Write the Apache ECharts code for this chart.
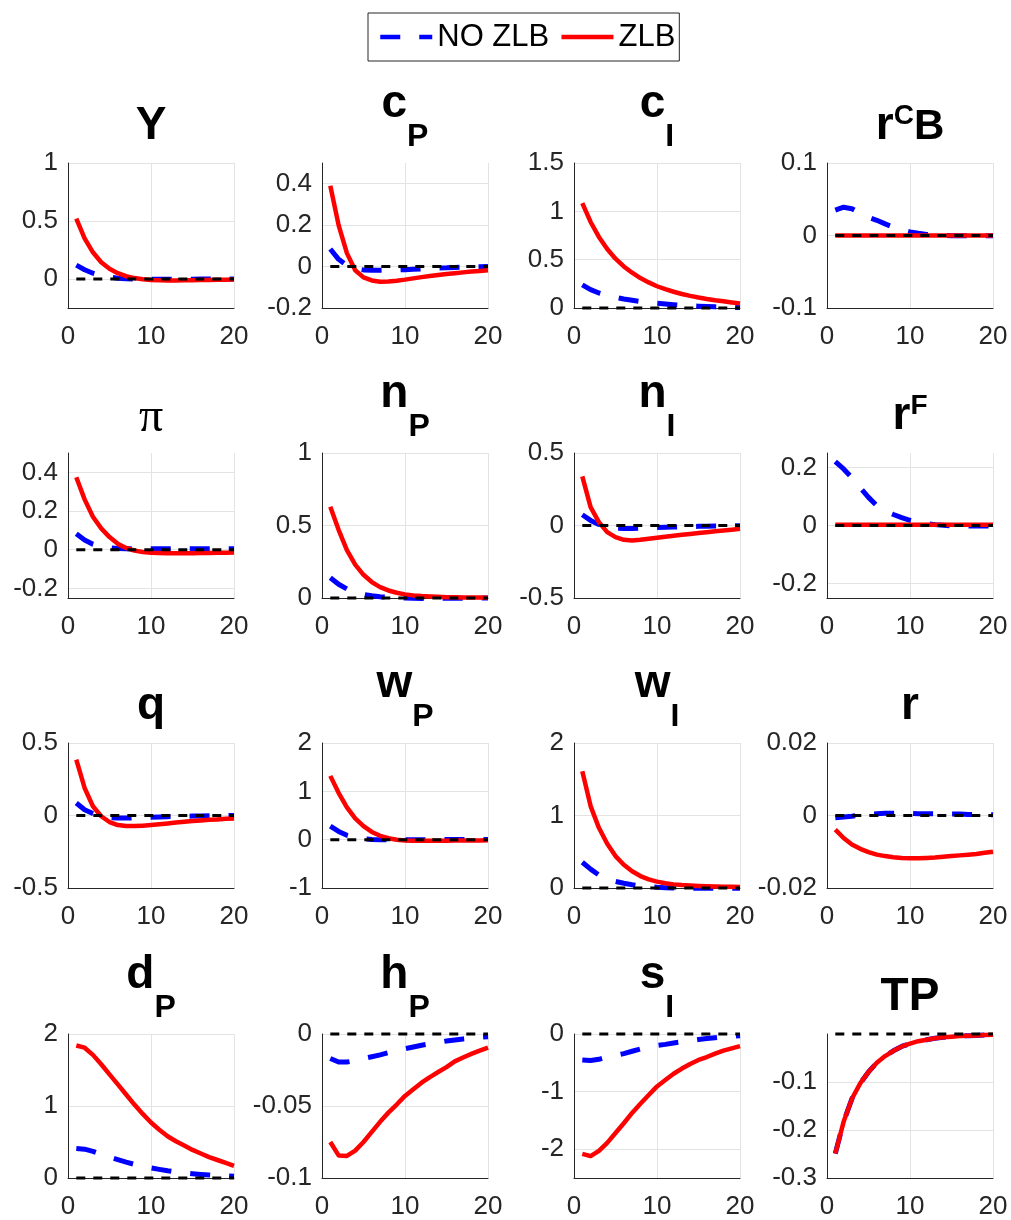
<!DOCTYPE html>
<html>
<head>
<meta charset="utf-8">
<script src="https://cdn.jsdelivr.net/npm/echarts@6/dist/echarts.min.js"></script>
<style>
  html, body { margin: 0; padding: 0; background: #fff; }
  #chart { width: 1011px; height: 1220px; }
</style>
</head>
<body>
<div id="chart"></div>
<script>
// Impulse responses over 20 periods, with and without the zero lower bound.
const periods = [1, 2, 3, 4, 5, 6, 7, 8, 9, 10, 11, 12, 13, 14, 15, 16, 17, 18, 19, 20];
const steadyState = [0, 0, 0, 0, 0, 0, 0, 0, 0, 0, 0, 0, 0, 0, 0, 0, 0, 0, 0, 0];

const noZlbY   = [0.12, 0.08, 0.05, 0.03, 0.016, 0.007, 0.002, -0.001, -0.003, -0.003, -0.003, -0.003, -0.002, -0.002, -0.002, -0.001, -0.001, -0.001, -0.001, 0];
const zlbY     = [0.52, 0.35, 0.23, 0.145, 0.088, 0.05, 0.024, 0.008, -0.002, -0.008, -0.011, -0.012, -0.012, -0.011, -0.010, -0.009, -0.008, -0.007, -0.006, -0.005];

const noZlbCP  = [0.085, 0.035, 0.005, -0.01, -0.016, -0.018, -0.018, -0.017, -0.016, -0.015, -0.013, -0.011, -0.009, -0.007, -0.006, -0.004, -0.003, -0.002, -0.001, 0];
const zlbCP    = [0.39, 0.20, 0.065, -0.018, -0.052, -0.067, -0.073, -0.072, -0.068, -0.063, -0.057, -0.051, -0.046, -0.041, -0.036, -0.032, -0.028, -0.024, -0.021, -0.018];

const noZlbCI  = [0.24, 0.19, 0.155, 0.13, 0.11, 0.093, 0.08, 0.068, 0.058, 0.049, 0.041, 0.034, 0.028, 0.023, 0.019, 0.015, 0.012, 0.009, 0.007, 0.005];
const zlbCI    = [1.085, 0.89, 0.735, 0.61, 0.51, 0.43, 0.365, 0.31, 0.265, 0.225, 0.195, 0.168, 0.145, 0.125, 0.108, 0.093, 0.08, 0.069, 0.058, 0.048];

const noZlbRCB = [0.035, 0.039, 0.037, 0.031, 0.025, 0.021, 0.016, 0.0115, 0.008, 0.005, 0.003, 0.0015, 0.0005, 0, -0.0003, -0.0005, -0.0005, -0.0005, -0.0004, -0.0003];
const zlbRCB   = [0, 0, 0, 0, 0, 0, 0, 0, 0, 0, 0, 0, 0, 0, 0, 0, 0, 0, 0, 0];

const noZlbPi  = [0.082, 0.05, 0.028, 0.015, 0.009, 0.006, 0.005, 0.005, 0.005, 0.005, 0.005, 0.005, 0.005, 0.005, 0.005, 0.005, 0.005, 0.005, 0.005, 0.005];
const zlbPi    = [0.375, 0.26, 0.17, 0.11, 0.065, 0.03, 0.009, -0.005, -0.012, -0.016, -0.017, -0.018, -0.018, -0.018, -0.018, -0.017, -0.017, -0.016, -0.016, -0.015];

const noZlbNP  = [0.14, 0.095, 0.062, 0.04, 0.025, 0.015, 0.009, 0.005, 0.002, 0, -0.002, -0.003, -0.003, -0.002, -0.002, -0.001, -0.001, 0, 0, 0];
const zlbNP    = [0.63, 0.47, 0.33, 0.23, 0.16, 0.11, 0.075, 0.052, 0.036, 0.025, 0.018, 0.013, 0.01, 0.008, 0.006, 0.005, 0.004, 0.003, 0.003, 0.002];

const noZlbNI  = [0.074, 0.035, 0.007, -0.012, -0.018, -0.02, -0.02, -0.018, -0.016, -0.014, -0.012, -0.011, -0.009, -0.007, -0.006, -0.005, -0.004, -0.003, -0.002, -0.001];
const zlbNI    = [0.339, 0.127, 0.023, -0.046, -0.08, -0.099, -0.104, -0.099, -0.092, -0.085, -0.078, -0.071, -0.064, -0.058, -0.052, -0.046, -0.04, -0.035, -0.029, -0.023];

const noZlbRF  = [0.22, 0.195, 0.165, 0.13, 0.097, 0.068, 0.05, 0.038, 0.027, 0.018, 0.012, 0.007, 0.003, 0.001, -0.001, -0.002, -0.002, -0.002, -0.002, -0.002];
const zlbRF    = [0.003, 0.003, 0.003, 0.003, 0.003, 0.003, 0.003, 0.003, 0.003, 0.003, 0.003, 0.003, 0.003, 0.003, 0.003, 0.003, 0.003, 0.003, 0.003, 0.003];

const noZlbQ   = [0.086, 0.04, 0.014, -0.005, -0.014, -0.018, -0.018, -0.016, -0.014, -0.012, -0.01, -0.008, -0.006, -0.005, -0.004, -0.003, -0.002, -0.001, -0.001, 0];
const zlbQ     = [0.386, 0.19, 0.064, -0.005, -0.045, -0.066, -0.073, -0.073, -0.07, -0.066, -0.061, -0.055, -0.049, -0.043, -0.038, -0.034, -0.03, -0.027, -0.023, -0.02];

const noZlbWP  = [0.28, 0.17, 0.09, 0.045, 0.02, 0.005, 0, -0.003, -0.004, -0.004, -0.003, -0.002, -0.001, 0, 0.002, 0.003, 0.003, 0.003, 0.003, 0.003];
const zlbWP    = [1.32, 0.97, 0.67, 0.44, 0.28, 0.16, 0.08, 0.03, 0, -0.015, -0.02, -0.022, -0.022, -0.021, -0.02, -0.018, -0.017, -0.016, -0.015, -0.014];

const noZlbWI  = [0.355, 0.26, 0.18, 0.13, 0.09, 0.065, 0.045, 0.03, 0.02, 0.01, 0.005, 0, -0.003, -0.004, -0.004, -0.004, -0.003, -0.003, -0.002, -0.002];
const zlbWI    = [1.61, 1.13, 0.83, 0.61, 0.44, 0.32, 0.23, 0.165, 0.12, 0.088, 0.066, 0.05, 0.04, 0.033, 0.028, 0.024, 0.021, 0.018, 0.016, 0.014];

const noZlbR   = [-0.0006, -0.0004, -0.0002, 0.0001, 0.0003, 0.0005, 0.0006, 0.0006, 0.0006, 0.0006, 0.0005, 0.0005, 0.0005, 0.0004, 0.0004, 0.0004, 0.0003, 0.0003, 0.0003, 0.0002];
const zlbR     = [-0.0039, -0.0062, -0.008, -0.0092, -0.0101, -0.0108, -0.0112, -0.0115, -0.0117, -0.0118, -0.0118, -0.0117, -0.0116, -0.0114, -0.0112, -0.011, -0.0108, -0.0106, -0.0103, -0.0100];

const noZlbDP  = [0.41, 0.40, 0.37, 0.33, 0.29, 0.255, 0.22, 0.19, 0.165, 0.14, 0.12, 0.1, 0.085, 0.07, 0.06, 0.05, 0.042, 0.035, 0.03, 0.025];
const zlbDP    = [1.84, 1.81, 1.71, 1.58, 1.44, 1.30, 1.16, 1.02, 0.89, 0.77, 0.67, 0.58, 0.51, 0.45, 0.39, 0.34, 0.29, 0.25, 0.21, 0.17];

const noZlbHP  = [-0.017, -0.0195, -0.0195, -0.0185, -0.017, -0.0158, -0.0145, -0.013, -0.0115, -0.0102, -0.009, -0.0078, -0.0068, -0.0058, -0.0049, -0.0041, -0.0034, -0.0028, -0.0023, -0.0019];
const zlbHP    = [-0.075, -0.0843, -0.0847, -0.081, -0.075, -0.068, -0.061, -0.0546, -0.049, -0.043, -0.0384, -0.0338, -0.0299, -0.0264, -0.023, -0.019, -0.0163, -0.0138, -0.0115, -0.0095];

const noZlbSI  = [-0.45, -0.46, -0.44, -0.40, -0.37, -0.34, -0.30, -0.26, -0.23, -0.2, -0.18, -0.155, -0.135, -0.115, -0.095, -0.08, -0.065, -0.05, -0.04, -0.03];
const zlbSI    = [-2.08, -2.12, -2.03, -1.89, -1.72, -1.55, -1.37, -1.21, -1.06, -0.91, -0.80, -0.69, -0.60, -0.52, -0.45, -0.40, -0.34, -0.29, -0.25, -0.21];

const noZlbTP  = [-0.249, -0.183, -0.135, -0.103, -0.079, -0.06, -0.046, -0.035, -0.026, -0.02, -0.015, -0.012, -0.009, -0.007, -0.0055, -0.004, -0.0035, -0.003, -0.002, -0.0015];
const zlbTP    = [-0.249, -0.183, -0.135, -0.103, -0.079, -0.06, -0.046, -0.035, -0.026, -0.02, -0.015, -0.012, -0.009, -0.007, -0.0055, -0.004, -0.0035, -0.003, -0.002, -0.0015];

// Panel titles (rich-text markup: m = main, n = main before a subscript,
// s = subscript, u = superscript, b = letter after a superscript, g = greek)
const panelTitles = [
  '{m|Y}', '{n|c}{s|P}', '{n|c}{s|I}', '{m|r}{u|C}{b|B}',
  '{g|π}', '{n|n}{s|P}', '{n|n}{s|I}', '{m|r}{u|F}',
  '{m|q}', '{n|w}{s|P}', '{n|w}{s|I}', '{m|r}',
  '{n|d}{s|P}', '{n|h}{s|P}', '{n|s}{s|I}', '{m|TP}'
];

// y-axis extents and tick labels per panel
const yMins  = [-0.25, -0.2, 0, -0.1,   -0.25, 0, -0.5, -0.25,   -0.5, -1, 0, -0.02,   0, -0.1, -2.5, -0.3];
const yMaxs  = [1, 0.5, 1.5, 0.1,       0.5, 1, 0.5, 0.25,       0.5, 2, 2, 0.02,      2, 0, 0, 0];
const yTicks = [
  [0, 0.5, 1], [-0.2, 0, 0.2, 0.4], [0, 0.5, 1, 1.5], [-0.1, 0, 0.1],
  [-0.2, 0, 0.2, 0.4], [0, 0.5, 1], [-0.5, 0, 0.5], [-0.2, 0, 0.2],
  [-0.5, 0, 0.5], [-1, 0, 1, 2], [0, 1, 2], [-0.02, 0, 0.02],
  [0, 1, 2], [-0.1, -0.05, 0], [-2, -1, 0], [-0.3, -0.2, -0.1]
];
const xTicks = [0, 10, 20];

const noZlbSeries = [noZlbY, noZlbCP, noZlbCI, noZlbRCB, noZlbPi, noZlbNP, noZlbNI, noZlbRF,
                     noZlbQ, noZlbWP, noZlbWI, noZlbR, noZlbDP, noZlbHP, noZlbSI, noZlbTP];
const zlbSeries   = [zlbY, zlbCP, zlbCI, zlbRCB, zlbPi, zlbNP, zlbNI, zlbRF,
                     zlbQ, zlbWP, zlbWI, zlbR, zlbDP, zlbHP, zlbSI, zlbTP];

// ---- layout ----
const SANS = 'Liberation Sans, Arial, Helvetica, sans-serif';
const SERIF = 'Liberation Serif, Times New Roman, serif';
const colLeft = [68, 322, 574, 827];
const rowTop = [163, 453, 743, 1034];
const plotW = 166, plotH = 145;
const titleLine = 96;     // common rich-text line height for every title
const titleOffset = 47;   // title anchor above the plot area

const pairs = (ys) => periods.map((p, i) => [p, ys[i]]);
const fmt = (v) => String(+(+v).toFixed(4));

const grids = [], xAxes = [], yAxes = [], series = [], titles = [];

const bold = { fontWeight: 'bold', fontFamily: SANS, color: '#000', verticalAlign: 'bottom' };
const titleRich = {
  m: Object.assign({}, bold, { fontSize: 46, lineHeight: 46, padding: [titleLine - 46 - 13, 0, 13, 0] }),
  n: Object.assign({}, bold, { fontSize: 46, lineHeight: 46, padding: [titleLine - 46 - 35, 0, 35, 0] }),
  b: Object.assign({}, bold, { fontSize: 42, lineHeight: 42, padding: [0, 0, 14, 0] }),
  s: Object.assign({}, bold, { fontSize: 32, lineHeight: 32, padding: [0, 0, 9, 0] }),
  u: Object.assign({}, bold, { fontSize: 28, lineHeight: 28, padding: [0, 0, 32, 0] }),
  g: { fontSize: 48, fontWeight: 'normal', fontFamily: SERIF, color: '#000', verticalAlign: 'bottom',
       lineHeight: 48, padding: [titleLine - 48 - 12, 0, 12, 0] }
};

for (let i = 0; i < 16; i++) {
  const r = Math.floor(i / 4), c = i % 4;
  grids.push({ left: colLeft[c], top: rowTop[r], width: plotW, height: plotH, containLabel: false });

  titles.push({
    text: panelTitles[i],
    left: colLeft[c] + plotW / 2,
    top: rowTop[r] - titleOffset,
    textAlign: 'center',
    padding: 0,
    textStyle: { rich: titleRich }
  });

  xAxes.push({
    type: 'value', gridIndex: i, min: 0, max: 20,
    axisLine: { show: true, onZero: false, lineStyle: { color: '#262626', width: 1 } },
    axisTick: { show: false, customValues: xTicks },
    axisLabel: { customValues: xTicks, fontSize: 26, color: '#262626', fontFamily: SANS, margin: 16, formatter: fmt },
    splitLine: { show: true, lineStyle: { color: '#e3e3e3', width: 1 } }
  });

  yAxes.push({
    type: 'value', gridIndex: i, min: yMins[i], max: yMaxs[i],
    axisLine: { show: true, onZero: false, lineStyle: { color: '#262626', width: 1 } },
    axisTick: { show: false, customValues: yTicks[i] },
    axisLabel: { customValues: yTicks[i], fontSize: 26, color: '#262626', fontFamily: SANS, margin: 10, formatter: fmt },
    splitLine: { show: true, lineStyle: { color: '#e3e3e3', width: 1 } }
  });

  series.push({
    name: 'NO ZLB', type: 'line', xAxisIndex: i, yAxisIndex: i, z: 2,
    data: pairs(noZlbSeries[i]), symbol: 'none', clip: false, animation: false,
    color: '#0000ff',
    lineStyle: { color: '#0000ff', width: 5, type: [20, 19], cap: 'butt', join: 'round' }
  });
  series.push({
    name: 'ZLB', type: 'line', xAxisIndex: i, yAxisIndex: i, z: 3,
    data: pairs(zlbSeries[i]), symbol: 'none', clip: false, animation: false,
    color: '#ff0000',
    lineStyle: { color: '#ff0000', width: 4.5, type: 'solid', join: 'round' }
  });
  series.push({
    name: 'steady state', type: 'line', xAxisIndex: i, yAxisIndex: i, z: 4,
    data: pairs(steadyState), symbol: 'none', clip: false, animation: false,
    color: '#000',
    lineStyle: { color: '#000', width: 3, type: [9, 8], cap: 'butt' },
    silent: true
  });
}

const chart = echarts.init(document.getElementById('chart'), null, { renderer: 'canvas' });
chart.setOption({
  backgroundColor: '#fff',
  animation: false,
  title: titles,
  legend: {
    data: ['NO ZLB', 'ZLB'],
    left: 368, top: 13,
    itemWidth: 52, itemHeight: 14, itemGap: 10,
    padding: [8, 4, 8, 10],
    borderColor: '#262626', borderWidth: 1, backgroundColor: '#fff',
    selectedMode: false,
    itemStyle: { opacity: 0, borderWidth: 0 },
    lineStyle: { width: 4.5 },
    textStyle: { fontSize: 31, color: '#000', fontFamily: SANS, lineHeight: 32, padding: [0, 0, 0, 0] }
  },
  grid: grids,
  xAxis: xAxes,
  yAxis: yAxes,
  series: series
});
</script>
</body>
</html>
